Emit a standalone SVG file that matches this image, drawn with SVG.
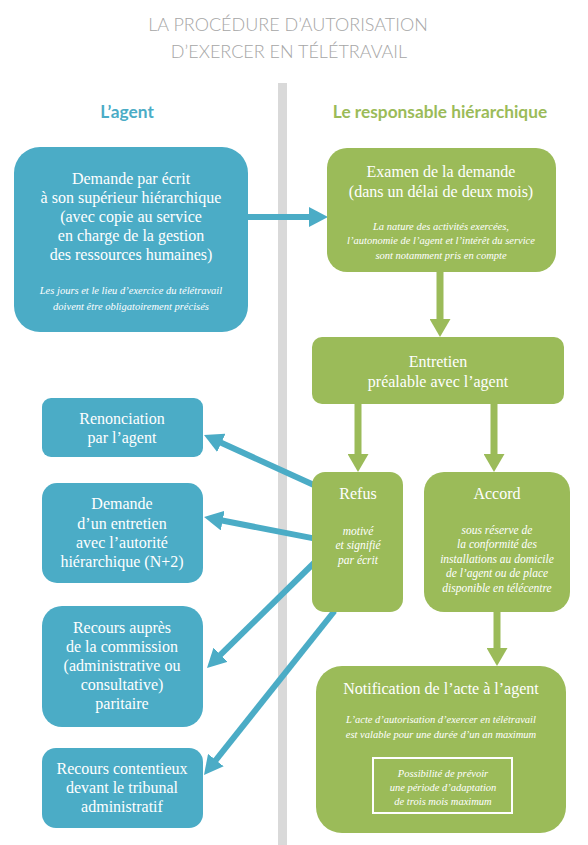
<svg xmlns="http://www.w3.org/2000/svg" width="588" height="845" viewBox="0 0 588 845">
<defs>
<style>
.title{font-family:Lato,"Open Sans",sans-serif;font-weight:300;font-size:18px;fill:#a6a6a6;text-anchor:middle}
.lab{font-family:Lato,"Open Sans",sans-serif;font-weight:bold;font-size:17.3px;text-anchor:middle}
.b{fill:#4bacc6}
.g{fill:#9bbb59}
.t{font-family:"Liberation Serif","Times New Roman",serif;font-size:16px;fill:#fff;text-anchor:middle}
.i{font-family:"Liberation Serif","Times New Roman",serif;font-style:italic;font-size:10.5px;fill:#fff;text-anchor:middle}
.s{font-size:11.5px}
.cb{stroke:#4bacc6;stroke-width:6;fill:none;marker-end:url(#ab)}
.cg{stroke:#9bbb59;stroke-width:7;fill:none;marker-end:url(#ag)}
</style>
<marker id="ab" markerUnits="userSpaceOnUse" markerWidth="19" markerHeight="20" viewBox="0 0 19 20" refX="11" refY="10" orient="auto"><path d="M0,0 L19,10 L0,20 z" fill="#4bacc6"/></marker>
<marker id="ag" markerUnits="userSpaceOnUse" markerWidth="18" markerHeight="21" viewBox="0 0 18 21" refX="10" refY="10.5" orient="auto"><path d="M0,0 L18,10.5 L0,21 z" fill="#9bbb59"/></marker>
</defs>
<rect width="588" height="845" fill="#fff"/>
<g id="title">
<text class="title" x="288" y="31">LA PROCÉDURE D’AUTORISATION</text>
<text class="title" x="289" y="58">D’EXERCER EN TÉLÉTRAVAIL</text>
</g>
<rect id="divider" x="278" y="83" width="9" height="762" fill="#d9d9d9"/>
<g id="labels">
<text class="lab b" x="127" y="118">L’agent</text>
<text class="lab g" x="440" y="118">Le responsable hiérarchique</text>
</g>
<g id="connectors">
<line class="cb" x1="248" y1="217" x2="320" y2="217"/>
<line class="cg" x1="440" y1="272" x2="440" y2="329"/>
<line class="cg" x1="358" y1="404" x2="358" y2="464"/>
<line class="cg" x1="494" y1="404" x2="494" y2="464"/>
<line class="cg" x1="497" y1="612" x2="497" y2="658"/>
<line class="cb" x1="315" y1="485.4" x2="211.3" y2="438.3"/>
<line class="cb" x1="315" y1="538.6" x2="211.9" y2="518.5"/>
<line class="cb" x1="315" y1="562" x2="212.7" y2="662.4"/>
<line class="cb" x1="334.5" y1="611" x2="209" y2="768.7"/>
</g>
<g id="demande">
<rect class="b" x="14" y="147" width="234" height="185" rx="26"/>
<text class="t" x="131" y="184">Demande par écrit</text>
<text class="t" x="131" y="203">à son supérieur hiérarchique</text>
<text class="t" x="131" y="222">(avec copie au service</text>
<text class="t" x="131" y="241">en charge de la gestion</text>
<text class="t" x="131" y="260">des ressources humaines)</text>
<text class="i" x="131" y="294">Les jours et le lieu d’exercice du télétravail</text>
<text class="i" x="131" y="310">doivent être obligatoirement précisés</text>
</g>
<g id="examen">
<rect class="g" x="327" y="148" width="229" height="124" rx="20"/>
<text class="t" x="441" y="177">Examen de la demande</text>
<text class="t" x="441" y="197">(dans un délai de deux mois)</text>
<text class="i" x="441" y="230">La nature des activités exercées,</text>
<text class="i" x="441" y="244">l’autonomie de l’agent et l’intérêt du service</text>
<text class="i" x="441" y="259">sont notamment pris en compte</text>
</g>
<g id="entretien">
<rect class="g" x="312" y="337" width="252" height="67" rx="10"/>
<text class="t" x="438" y="367">Entretien</text>
<text class="t" x="438" y="387">préalable avec l’agent</text>
</g>
<g id="refus">
<rect class="g" x="312" y="472" width="91" height="140" rx="13"/>
<text class="t" x="358" y="499">Refus</text>
<text class="i s" x="358" y="535">motivé</text>
<text class="i s" x="358" y="549">et signifié</text>
<text class="i s" x="358" y="564">par écrit</text>
</g>
<g id="accord">
<rect class="g" x="424" y="472" width="146" height="140" rx="20"/>
<text class="t" x="497" y="499">Accord</text>
<text class="i s" x="497" y="534">sous réserve de</text>
<text class="i s" x="497" y="548">la conformité des</text>
<text class="i s" x="497" y="563">installations au domicile</text>
<text class="i s" x="497" y="577">de l’agent ou de place</text>
<text class="i s" x="497" y="592">disponible en télécentre</text>
</g>
<g id="notification">
<rect class="g" x="316" y="666" width="250" height="167" rx="26"/>
<text class="t" x="441" y="694">Notification de l’acte à l’agent</text>
<text class="i" x="441" y="723">L’acte d’autorisation d’exercer en télétravail</text>
<text class="i" x="441" y="738">est valable pour une durée d’un an maximum</text>
<rect x="373" y="758" width="139" height="55" fill="none" stroke="#fff" stroke-width="2"/>
<text class="i" x="443" y="777">Possibilité de prévoir</text>
<text class="i" x="443" y="791">une période d’adaptation</text>
<text class="i" x="443" y="805">de trois mois maximum</text>
</g>
<g id="renonciation">
<rect class="b" x="42" y="398" width="161" height="59" rx="9"/>
<text class="t" x="122" y="424">Renonciation</text>
<text class="t" x="122" y="443">par l’agent</text>
</g>
<g id="demande-entretien">
<rect class="b" x="42" y="483" width="161" height="100" rx="15"/>
<text class="t" x="122" y="509">Demande</text>
<text class="t" x="122" y="529">d’un entretien</text>
<text class="t" x="122" y="548">avec l’autorité</text>
<text class="t" x="122" y="567">hiérarchique (N+2)</text>
</g>
<g id="recours-commission">
<rect class="b" x="42" y="606" width="161" height="121" rx="20"/>
<text class="t" x="122" y="633">Recours auprès</text>
<text class="t" x="122" y="652">de la commission</text>
<text class="t" x="122" y="671">(administrative ou</text>
<text class="t" x="122" y="690">consultative)</text>
<text class="t" x="122" y="709">paritaire</text>
</g>
<g id="recours-contentieux">
<rect class="b" x="42" y="748" width="161" height="80" rx="14"/>
<text class="t" x="122" y="774">Recours contentieux</text>
<text class="t" x="122" y="793">devant le tribunal</text>
<text class="t" x="122" y="812">administratif</text>
</g>
</svg>
